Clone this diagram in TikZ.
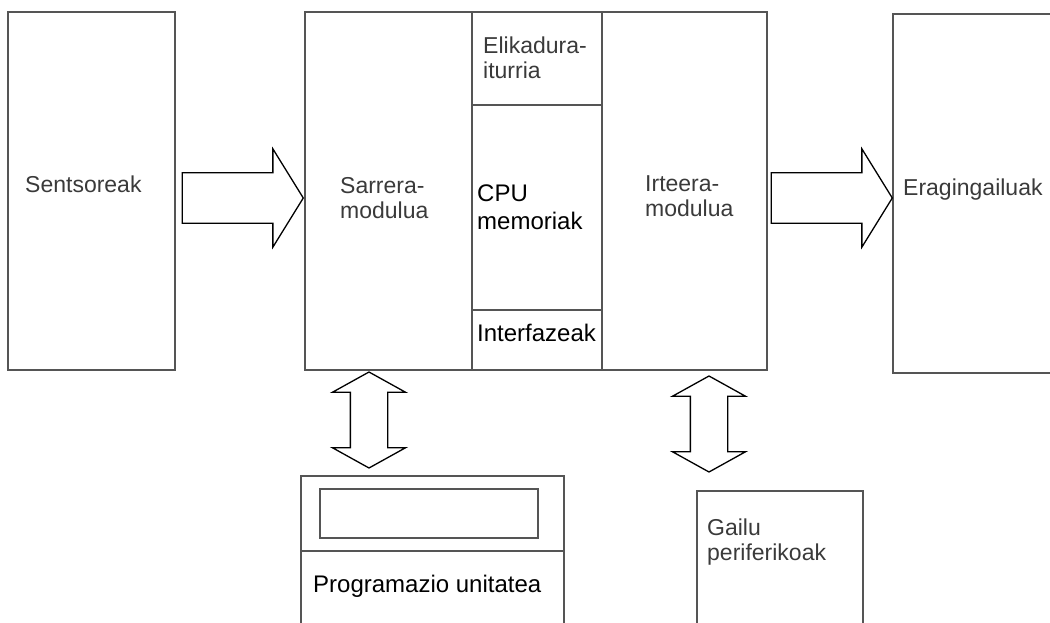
\documentclass[tikz,border=0pt]{standalone}
\usepackage{fontspec}
\setmainfont{Liberation Sans}
\usetikzlibrary{shapes.arrows}
\definecolor{boxgray}{HTML}{555555}
\definecolor{txtgray}{HTML}{3A3A3A}

\begin{document}
\begin{tikzpicture}[x=1pt,y=-1pt,
                    box/.style={rectangle,draw=boxgray,line width=1.8pt,inner sep=0pt},
                    grey label/.style={inner sep=0pt,text=txtgray,align=left,font=\fontsize{23}{25}\selectfont},
                    black label/.style={inner sep=0pt,align=left,font=\fontsize{24}{28}\selectfont},
                    fat arrow/.style={single arrow,draw,line width=1.3pt,inner sep=0pt,
                      text height=24.5pt,text depth=24.5pt,
                      minimum width=97pt,minimum height=121pt,
                      single arrow head extend=24pt,single arrow tip angle=116.5},
                    both arrow/.style={double arrow,draw,line width=1.3pt,inner sep=0pt,rotate=90,
                      text height=18pt,text depth=18pt,
                      minimum width=72pt,minimum height=96pt,
                      double arrow head extend=18pt,double arrow tip angle=122}]

  \useasboundingbox (0,0) rectangle (1050,623);
  \clip (0,0) rectangle (1050,623);

  % boxes of the top row
  \node[box,minimum width=167pt,minimum height=358pt] (sens) at (91.5,191) {};
  \node[box,minimum width=167pt,minimum height=358pt] (sarr) at (388.5,191) {};
  \node[box,minimum width=130pt,minimum height=93pt] (elik) at (537,58.5) {};
  \node[box,minimum width=130pt,minimum height=205pt] (cpu) at (537,207.5) {};
  \node[box,minimum width=130pt,minimum height=60pt] (intf) at (537,340) {};
  \node[box,minimum width=165pt,minimum height=358pt] (irt) at (684.5,191) {};
  \node[box,minimum width=227pt,minimum height=359pt] (erag) at (1006.5,193.5) {};

  % boxes below, cut by the lower edge
  \node[box,minimum width=263pt,minimum height=75pt] (progtop) at (432.5,513.5) {};
  \node[box,minimum width=218pt,minimum height=49pt] (screen) at (429,513.5) {};
  \node[box,minimum width=263pt,minimum height=169pt] (progbot) at (432.5,635.5) {};
  \node[box,minimum width=166pt,minimum height=229pt] (gailu) at (780,605.5) {};

  % texts
  \node[grey label,anchor=base west] (senstxt) at (25,193) {Sentsoreak};
  \node[grey label,anchor=north west] (sarrtxt) at (340,177) {Sarrera-\\modulua};
  \node[grey label,anchor=north west] (eliktxt) at (483,37) {Elikadura-\\iturria};
  \node[black label,anchor=north west] (cputxt) at (477,185) {CPU\\memoriak};
  \node[black label,anchor=base west] (intftxt) at (477,341) {Interfazeak};
  \node[grey label,anchor=north west] (irttxt) at (645,175) {Irteera-\\modulua};
  \node[grey label,anchor=base west] (eragtxt) at (903,195) {Eragingailuak};
  \node[black label,anchor=base west] (progtxt) at (313,592) {Programazio unitatea};
  \node[grey label,anchor=north west] (gailutxt) at (707,519) {Gailu\\periferikoak};

  % block arrows
  \node[fat arrow] (in1) at (235,198) {};
  \node[fat arrow] (out1) at (824,198) {};
  \node[both arrow] (progarr) at (369,420) {};
  \node[both arrow] (periarr) at (709,424) {};
\end{tikzpicture}
\end{document}
